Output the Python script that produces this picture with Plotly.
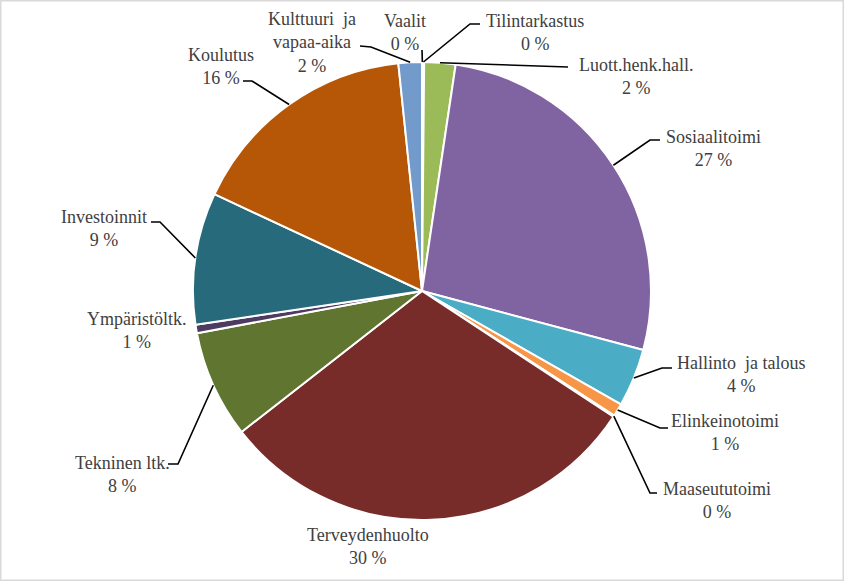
import math
import plotly.graph_objects as go

# ---- data ----
categories = ["Vaalit", "Tilintarkastus", "Luott.henk.hall.", "Sosiaalitoimi",
              "Hallinto  ja talous", "Elinkeinotoimi", "Maaseututoimi",
              "Terveydenhuolto", "Tekninen ltk.", "Ympäristöltk.",
              "Investoinnit", "Koulutus", "Kulttuuri  ja<br>vapaa-aika"]
values = [0.05, 0.1, 2.2, 26.8, 4.1, 0.9, 0.1, 30.2, 7.6, 0.6, 9.3, 16.4, 1.65]
colors = ["#4F81BD", "#C0504D", "#9BBB59", "#8064A2", "#4BACC6", "#F79646",
          "#2C4D75", "#772C2A", "#5F7530", "#4D3B62", "#276A7C", "#B65708",
          "#729ACA"]

# ---- layout (pixels) ----
W, H = 844, 581
CX, CY, R = 422, 291, 229
# label centre positions and leader-line elbow points (None = no leader)
label_pos = [(405, 32), (535, 32), (636, 76), (713, 148), (741, 374),
             (725, 432), (717, 500), (368, 546), (122, 474), (137, 330),
             (104, 228), (221, 66), (312, 43)]
leader = [[(422, 50)],
          [(480, 24), (470, 24)],
          [(568, 67)],
          [(660, 140), (650, 140)],
          [(672, 368), (662, 368)],
          [(668, 428), (660, 428)],
          [(657, 493), (650, 493)],
          None,
          [(168, 464), (178, 464)],
          None,
          [(151, 222), (160, 222)],
          [(243, 81), (252, 81)],
          [(360, 46), (371, 47)]]

FONT = "Liberation Serif"

def px(x):
    return x / W

def py(y):
    return 1 - y / H

fig = go.Figure(go.Pie(
    labels=categories, values=values, sort=False, direction="clockwise",
    rotation=0, textinfo="none", hoverinfo="label+percent",
    marker=dict(colors=colors, line=dict(color="white", width=2)),
    domain=dict(x=[px(CX - R), px(CX + R)], y=[py(CY + R), py(CY - R)]),
    showlegend=False,
))

total = sum(values)
cum = 0.0
annotations = []
shapes = []
for i, (cat, v) in enumerate(zip(categories, values)):
    mid = (cum + v / 2) / total
    cum += v
    ang = 2 * math.pi * mid
    ex, ey = CX + R * math.sin(ang), CY - R * math.cos(ang)
    pct = round(v / total * 100)
    lx, ly = label_pos[i]
    annotations.append(dict(
        x=px(lx), y=py(ly), xref="paper", yref="paper",
        text=f"{cat}<br>{pct} %", showarrow=False, align="center",
        xanchor="center", yanchor="middle",
        font=dict(family=FONT, size=18, color="#404040")))
    if leader[i]:
        pts = leader[i] + [(ex, ey)]
        path = "M " + " L ".join(f"{px(a)},{py(b)}" for a, b in pts)
        shapes.append(dict(type="path", path=path, xref="paper", yref="paper",
                           line=dict(color="black", width=1.6)))

shapes.append(dict(type="rect", xref="paper", yref="paper", x0=0, y0=0,
                   x1=1, y1=1, line=dict(color="#D9D9D9", width=3)))

fig.update_layout(
    width=W, height=H, margin=dict(l=0, r=0, t=0, b=0),
    paper_bgcolor="white", plot_bgcolor="white",
    font=dict(family=FONT),
    annotations=annotations, shapes=shapes,
)
fig.write_html(
    "out.html",
    config={"displayModeBar": False},
    post_script="document.body.style.margin='0';"
                "document.body.style.overflow='hidden';",
)
